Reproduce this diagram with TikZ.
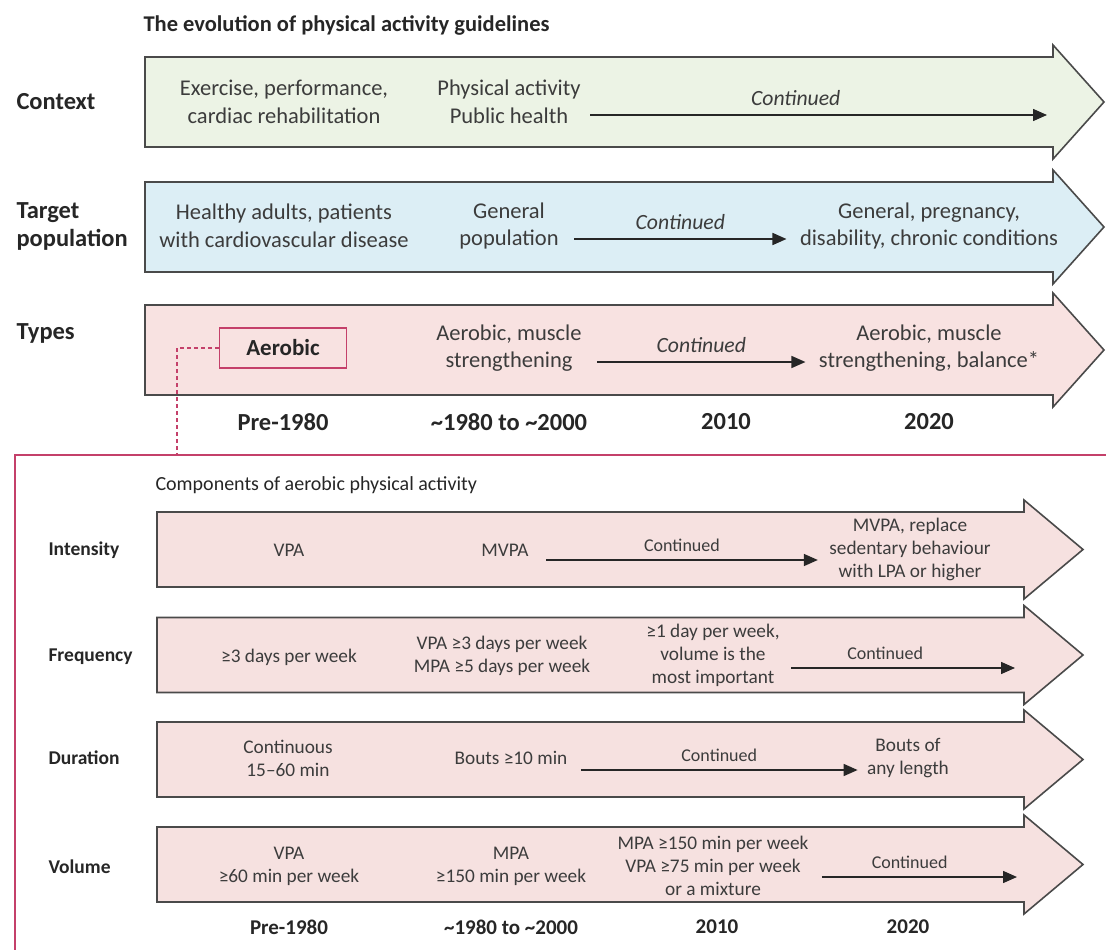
\documentclass[tikz,border=0pt]{standalone}
\usepackage{fontspec}
\setmainfont{Carlito}
\usepackage{tikz}
\usetikzlibrary{arrows.meta, positioning, calc}
\definecolor{fillContext}{HTML}{ECF3E5}
\definecolor{fillTarget}{HTML}{DCEEF5}
\definecolor{fillTypes}{HTML}{F8E2E1}
\definecolor{fillComp}{HTML}{F6E1E0}
\definecolor{grisBorde}{HTML}{4A4A4A}
\definecolor{grisTexto}{HTML}{3C3C3C}
\definecolor{grisLabel}{HTML}{262626}
\definecolor{rojoMarco}{HTML}{C4406A}

\begin{document}
\begin{tikzpicture}[
        x=1pt, y=-1pt,
        band/.style={draw=grisBorde, line width=1.6pt, line join=miter},
        txt/.style={align=center, text=grisTexto, font=\fontsize{22.5}{27.5}\selectfont},
        txtSmall/.style={align=center, text=grisTexto, font=\fontsize{19.3}{23}\selectfont},
        lbl/.style={anchor=west, align=left, text=grisLabel, font=\bfseries\fontsize{24.5}{28}\selectfont},
        lblSmall/.style={anchor=west, text=grisLabel, font=\bfseries\fontsize{19.5}{23}\selectfont},
        yearTop/.style={text=grisLabel, font=\bfseries\fontsize{24.5}{28}\selectfont},
        yearSmall/.style={text=grisLabel, font=\bfseries\fontsize{21}{24}\selectfont},
        contLbl/.style={text=grisTexto, font=\itshape\fontsize{21.7}{25}\selectfont},
        contSmall/.style={text=grisTexto, font=\fontsize{18}{22}\selectfont},
        rel/.style={-{Triangle[length=14pt, width=12pt]}, line width=1.5pt, draw=grisLabel},
        aerobox/.style={draw=rojoMarco, line width=1.3pt, minimum width=127pt, minimum height=40pt,
            text=grisLabel, font=\bfseries\fontsize{23}{26}\selectfont},
        marco/.style={draw=rojoMarco, line width=1.6pt}
    ]
    \useasboundingbox (0,0) rectangle (1106,950);

    % top arrows
    \draw[band, fill=fillContext] (145,57) -- (1053,57) -- (1053,45) -- (1104,102) -- (1053,159) -- (1053,147) -- (145,147) -- cycle;
    \draw[band, fill=fillTarget] (145,182) -- (1053,182) -- (1053,170) -- (1104,227) -- (1053,284) -- (1053,272) -- (145,272) -- cycle;
    \draw[band, fill=fillTypes] (145,305) -- (1053,305) -- (1053,293) -- (1104,350) -- (1053,407) -- (1053,395) -- (145,395) -- cycle;

    \node[lbl, font=\bfseries\fontsize{22.5}{26}\selectfont] (title) at (140,25) {The evolution of physical activity guidelines};

    \node[lbl] (lContext) at (13,102) {Context};
    \node[txt] (ctxA) at (284,102) {Exercise, performance,\\cardiac rehabilitation};
    \node[txt] (ctxB) at (509,102) {Physical activity\\Public health};
    \coordinate (ctxEnd) at (1047,115);
    \draw[rel] ([xshift=6pt, yshift=-13pt]ctxB.east) -- node[contLbl, pos=.45, above=5pt] {Continued} (ctxEnd);

    \node[lbl] (lTarget) at (13,226) {Target\\population};
    \node[txt] (tgtA) at (284,226) {Healthy adults, patients\\with cardiovascular disease};
    \node[txt] (tgtB) at (509,226) {General\\population};
    \node[txt] (tgtC) at (929,226) {General, pregnancy,\\disability, chronic conditions};
    \draw[rel] ([xshift=12pt, yshift=-13pt]tgtB.east) -- node[contLbl, above=5pt] {Continued} ([xshift=-10pt, yshift=-13pt]tgtC.west);

    \node[lbl] (lTypes) at (13,333) {Types};
    \node[aerobox] (aer) at (283,348) {Aerobic};
    \node[txt] (typB) at (509,348) {Aerobic, muscle\\strengthening};
    \node[txt] (typC) at (929,348) {Aerobic, muscle\\strengthening, balance*};
    \draw[rel] ([xshift=12pt, yshift=-14pt]typB.east) -- node[contLbl, above=5pt] {Continued} ([xshift=-10pt, yshift=-14pt]typC.west);

    \node[yearTop] (yA) at (283,422) {Pre-1980};
    \node[yearTop] (yB) at (509,422) {\textasciitilde1980 to \textasciitilde2000};
    \node[yearTop] (yC) at (726,422) {2010};
    \node[yearTop] (yD) at (929,422) {2020};

    % components frame
    \draw[marco] (1110,455) -- (15,455) -- (15,955);
    \coordinate (aerBend) at (177,348);
    \coordinate (aerDown) at (177,455);
    \draw[rojoMarco, line width=1.2pt, dash pattern=on 4pt off 3pt] (aer.west) -- (aerBend) -- (aerDown);

    \node[anchor=west, text=grisLabel, font=\fontsize{20}{24}\selectfont] (compTitle) at (152,485) {Components of aerobic physical activity};

    % lower arrows
    \draw[band, fill=fillComp] (157,512) -- (1024,512) -- (1024,500) -- (1083,549.5) -- (1024,599) -- (1024,587) -- (157,587) -- cycle;
    \draw[band, fill=fillComp] (157,617.5) -- (1024,617.5) -- (1024,605.5) -- (1083,655) -- (1024,704.5) -- (1024,692.5) -- (157,692.5) -- cycle;
    \draw[band, fill=fillComp] (157,722) -- (1024,722) -- (1024,710) -- (1083,759.5) -- (1024,809) -- (1024,797) -- (157,797) -- cycle;
    \draw[band, fill=fillComp] (157,827) -- (1024,827) -- (1024,815) -- (1083,864.5) -- (1024,914) -- (1024,902) -- (157,902) -- cycle;

    \node[lblSmall] (lInt) at (45,550) {Intensity};
    \node[txtSmall] (intA) at (289,550) {VPA};
    \node[txtSmall] (intB) at (505,550) {MVPA};
    \node[txtSmall] (intC) at (910,549) {MVPA, replace\\sedentary behaviour\\with LPA or higher};
    \draw[rel] ([xshift=14pt, yshift=-10pt]intB.east) -- node[contSmall, above=4pt] {Continued} ([xshift=-8pt, yshift=-11pt]intC.west);

    \node[lblSmall] (lFreq) at (45,657) {Frequency};
    \node[txtSmall] (frqA) at (289,657) {≥3 days per week};
    \node[txtSmall] (frqB) at (502,656) {VPA ≥3 days per week\\MPA ≥5 days per week};
    \node[txtSmall] (frqC) at (713,655) {≥1 day per week,\\volume is the\\most important};
    \coordinate (frqEnd) at (1015,668);
    \draw[rel] ([xshift=8pt, yshift=-13pt]frqC.east) -- node[contSmall, pos=.42, above=4pt] {Continued} (frqEnd);

    \node[lblSmall] (lDur) at (45,758) {Duration};
    \node[txtSmall] (durA) at (288,758) {Continuous\\15–60 min};
    \node[txtSmall] (durB) at (511,758) {Bouts ≥10 min};
    \node[txtSmall] (durC) at (908,758) {Bouts of\\any length};
    \draw[rel] ([xshift=10pt, yshift=-12pt]durB.east) -- node[contSmall, above=4pt] {Continued} ([xshift=-6pt, yshift=-12pt]durC.west);

    \node[lblSmall] (lVol) at (45,867) {Volume};
    \node[txtSmall] (volA) at (289,866) {VPA\\≥60 min per week};
    \node[txtSmall] (volB) at (511,866) {MPA\\≥150 min per week};
    \node[txtSmall] (volC) at (713,866) {MPA ≥150 min per week\\VPA ≥75 min per week\\or a mixture};
    \coordinate (volEnd) at (1017,877);
    \draw[rel] ([xshift=10pt, yshift=-11pt]volC.east) -- node[contSmall, pos=.45, above=4pt] {Continued} (volEnd);

    \node[yearSmall] (ysA) at (289,927) {Pre-1980};
    \node[yearSmall] (ysB) at (511,927) {\textasciitilde1980 to \textasciitilde2000};
    \node[yearSmall] (ysC) at (717,927) {2010};
    \node[yearSmall] (ysD) at (908,927) {2020};
\end{tikzpicture}
\end{document}
